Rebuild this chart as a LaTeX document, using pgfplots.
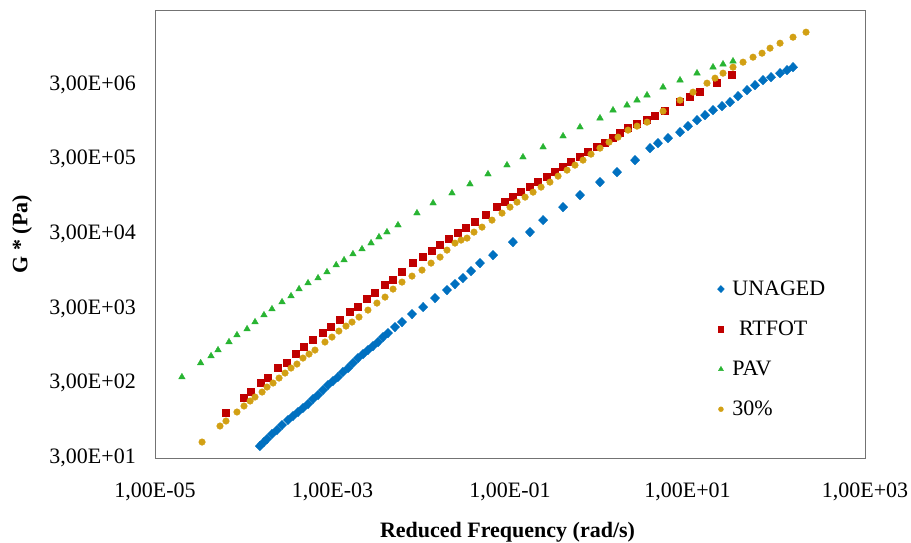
\documentclass[border=0pt]{standalone}
\usepackage{fontspec}
\setmainfont{Liberation Serif}
\usepackage{pgfplots}
\pgfplotsset{compat=1.18}
\definecolor{cUn}{RGB}{0,112,192}
\definecolor{cRt}{RGB}{192,0,0}
\definecolor{cPav}{RGB}{40,180,50}
\definecolor{cTh}{RGB}{210,160,20}
\begin{document}
\begin{tikzpicture}
\begin{axis}[
  scale only axis, width=710pt, height=448pt,
  xmode=log, ymode=log,
  xmin=1e-5, xmax=1e3, ymin=30, ymax=3e7,
  xtick={1e-5,1e-3,1e-1,1e1,1e3},
  xticklabels={{1,00E-05},{1,00E-03},{1,00E-01},{1,00E+01},{1,00E+03}},
  ytick={30,300,3000,30000,300000,3000000},
  yticklabels={{3,00E+01},{3,00E+02},{3,00E+03},{3,00E+04},{3,00E+05},{3,00E+06}},
  minor tick num=0, tick style={draw=none},
  axis line style={draw=black!55, line width=0.9pt},
  /pgf/number format/assume math mode=true,
  ticklabel style={font=\fontsize{22}{26}\selectfont, inner sep=0pt},
  xticklabel style={anchor=center, yshift=-34pt},
  yticklabel style={anchor=east, xshift=-19pt},
  xlabel={\textbf{Reduced Frequency (rad/s)}},
  ylabel={\textbf{G * (Pa)}},
  label style={font=\fontsize{22}{26}\selectfont},
  xlabel style={at={(axis description cs:0.4965,-0.165)}, anchor=center},
  ylabel style={at={(axis description cs:-0.1873,0.5)}, anchor=center},
  legend style={draw=none, fill=none, at={(rel axis cs:0.792,0.40)}, anchor=north west,
    font=\fontsize{22}{26}\selectfont, row sep=20pt, column sep=6pt, inner sep=0pt},
  legend image post style={scale=0.75},
  legend cell align=left,
]
\addplot[only marks, mark=diamond*, mark size=4.7pt, mark options={xscale=1.3}, color=cUn] coordinates {
(1.52e-4,43.4) (1.69e-4,49.1) (1.83e-4,53.9) (2.08e-4,62.9) (2.37e-4,71.1) (2.70e-4,83.0)
(3.15e-4,96.8) (3.59e-4,109.5) (4.09e-4,123.9) (4.65e-4,140.1)
(5.30e-4,158.5) (6.03e-4,184.9) (6.87e-4,209.2) (7.82e-4,244.0) (8.90e-4,284.7)
(1.013e-3,322.1) (1.15e-3,364) (1.31e-3,425.0) (1.50e-3,480.8) (1.70e-3,561)
(1.94e-3,654.2) (2.21e-3,740) (2.51e-3,837) (2.86e-3,947) (3.26e-3,1072) (3.71e-3,1250)
(4.22e-3,1414) (5.06e-3,1701) (6.07e-3,1985) (7.87e-3,2540)
(1.05e-2,3151) (1.43e-2,4159) (1.95e-2,5322) (2.40e-2,6404) (2.95e-2,7704) (3.64e-2,9559)
(4.59e-2,12230) (6.44e-2,15650)
(0.108,23370) (0.168,31810) (0.236,46040) (0.396,68750) (0.615,99520)
(1.033,148600) (1.606,202200) (2.563,292700) (3.783,423700) (4.65,494300) (6.032,576800)
(8.236,693900) (10.13,835000) (12.80,1.004e6) (15.76,1.172e6) (19.39,1.367e6) (24.49,1.546e6)
(30.14,1.750e6) (37.10,2.105e6) (46.85,2.533e6) (57.65,2.954e6)
(70.93,3.447e6) (87.33,3.780e6) (110.3,4.277e6) (132.2,4.691e6) (154.5,5.145e6)
};
\addlegendentry{UNAGED}
\addplot[only marks, mark=square*, mark size=3.5pt, color=cRt] coordinates {
(6.31e-5,120.1) (1.007e-4,190.7) (1.21e-4,229.4) (1.57e-4,302.8) (1.88e-4,353.3)
(2.43e-4,480.8) (3.07e-4,561) (3.88e-4,740) (4.77e-4,918.7) (6.03e-4,1140)
(7.82e-4,1414) (9.62e-4,1701) (1.22e-3,2111) (1.58e-3,2702) (1.94e-3,3151)
(2.45e-3,4033) (3.01e-3,4853) (3.91e-3,6211) (4.81e-3,7245) (6.07e-3,9271)
(8.07e-3,12230) (1.05e-2,14720) (1.32e-2,17710) (1.63e-2,21300) (2.06e-2,25630)
(2.60e-2,30840) (3.19e-2,35980) (4.04e-2,43290) (5.37e-2,53730) (7.14e-2,68750)
(8.79e-2,80210) (0.108,93560) (0.133,109100) (0.168,127400) (0.207,148600)
(0.261,173300) (0.322,202200) (0.396,235800) (0.487,275300) (0.615,321000)
(0.757,374500) (0.956,437000) (1.176,494300) (1.448,576800) (1.736,673000)
(2.137,785000) (2.70,888000) (3.499,1.004e6) (4.31,1.136e6) (5.58,1.326e6)
(8.236,1.750e6) (10.68,2.040e6)
(13.84,2.381e6) (21.51,3.142e6) (31.74,4.02e6)
};
\addlegendentry{\hspace{0.3em}RTFOT}
\addplot[only marks, mark=triangle*, mark size=3.8pt, color=cPav] coordinates {
(2.01e-5,364) (3.27e-5,561) (4.28e-5,696) (5.13e-5,837) (6.82e-5,1072)
(8.39e-5,1329) (1.09e-4,1600) (1.34e-4,1985) (1.69e-4,2462) (2.08e-4,2963)
(2.70e-4,3677) (3.41e-4,4424) (4.20e-4,5489) (5.30e-4,6604) (6.87e-4,7704)
(8.67e-4,9271) (1.10e-3,11500) (1.35e-3,13420) (1.70e-3,16150) (2.15e-3,18840)
(2.72e-3,22660) (3.34e-3,27260) (4.11e-3,31810) (5.47e-3,39480) (8.95e-3,57130)
(1.36e-2,77770) (2.22e-2,105800) (3.54e-2,139700) (5.65e-2,190100) (9.25e-2,250800)
(0.140,321000) (0.236,437000) (0.396,613400) (0.615,809500) (1.033,1.068e6)
(1.448,1.367e6) (2.082,1.595e6) (2.70,1.860e6) (3.499,2.171e6) (5.30,2.777e6)
(8.236,3.447e6) (12.80,4.277e6) (19.39,5.145e6) (25.13,5.644e6)
(32.57,6.19e6)
};
\addlegendentry{PAV}
\addplot[only marks, mark=*, mark size=3.3pt, color=cTh] coordinates {
(3.39e-5,49.1) (5.40e-5,80.4) (6.31e-5,93.8) (8.39e-5,123.9) (1.007e-4,149.0)
(1.18e-4,173.9) (1.34e-4,196.7) (1.61e-4,229.4) (1.83e-4,267.7) (2.14e-4,302.8)
(2.50e-4,353.3) (2.92e-4,412.1) (3.41e-4,480.8) (3.98e-4,543.9) (4.65e-4,654.2)
(5.44e-4,740) (6.35e-4,837) (8.23e-4,1072) (9.87e-4,1250) (1.18e-3,1504)
(1.42e-3,1754) (1.66e-3,1985) (1.99e-3,2316) (2.51e-3,2873) (3.17e-3,3565)
(3.91e-3,4290) (4.81e-3,5489) (6.07e-3,6812) (7.87e-3,8195) (1.02e-2,9860)
(1.29e-2,12230) (1.63e-2,14720) (1.95e-2,18260)
(2.40e-2,22660) (2.81e-2,24860) (3.28e-2,26440) (3.93e-2,31810) (4.84e-2,37110)
(6.27e-2,46040) (8.13e-2,57130) (0.100,68750) (0.120,80210) (0.148,93560)
(0.182,109100) (0.224,127400) (0.282,148600) (0.348,178700) (0.439,215100)
(0.540,250800) (0.665,292700) (0.818,352100) (1.033,423700) (1.305,509800)
(1.649,594800) (2.137,738200) (2.70,835000) (3.499,944400) (5.30,1.326e6)
(8.236,1.860e6) (11.54,2.381e6) (16.59,3.142e6) (20.42,3.666e6)
(25.13,4.277e6) (32.57,5.145e6) (42.23,6.003e6) (54.74,7.003e6) (69.15,7.92e6)
(85.09,9.244e6) (110.3,1.078e7) (154.5,1.297e7) (216.5,1.514e7)
};
\addlegendentry{30\%}
\end{axis}
\pgfresetboundingbox
\path ([shift={(-155pt,-84pt)}]current axis.south west) rectangle ([shift={(46pt,10pt)}]current axis.north east);
\end{tikzpicture}
\end{document}
